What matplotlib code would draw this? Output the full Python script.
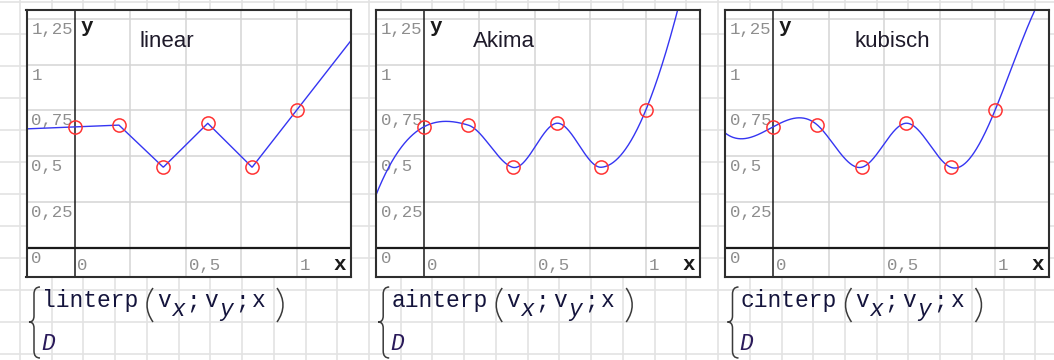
import numpy as np
import matplotlib
matplotlib.use("Agg")
import matplotlib.pyplot as plt
from matplotlib.path import Path
from matplotlib.patches import PathPatch

# Interpolation nodes
vx = [0.0, 0.2, 0.4, 0.6, 0.8, 1.0]
vy = [0.66, 0.67, 0.44, 0.68, 0.44, 0.75]

titles = ["linear", "Akima", "kubisch"]
func_names = ["linterp", "ainterp", "cinterp"]
y_ticks = [0, 0.25, 0.5, 0.75, 1, 1.25]
y_tick_labels = ["0", "0,25", "0,5", "0,75", "1", "1,25"]
x_ticks = [0, 0.5, 1]
x_tick_labels = ["0", "0,5", "1"]
x_grid = [0.25, 0.5, 0.75, 1.0]
y_grid = [0.25, 0.5, 0.75, 1.0, 1.25]


def hermite_eval(xk, yk, tk, xq):
    """Piecewise cubic Hermite; end pieces are continued outside the nodes."""
    xk, yk, tk = map(np.asarray, (xk, yk, tk))
    i = np.clip(np.searchsorted(xk, xq) - 1, 0, len(xk) - 2)
    h = xk[i + 1] - xk[i]
    m = (yk[i + 1] - yk[i]) / h
    c2 = (3 * m - 2 * tk[i] - tk[i + 1]) / h
    c3 = (tk[i] + tk[i + 1] - 2 * m) / h ** 2
    s = xq - xk[i]
    return yk[i] + tk[i] * s + c2 * s ** 2 + c3 * s ** 3


def linear_eval(xk, yk, xq):
    xk, yk = np.asarray(xk), np.asarray(yk)
    i = np.clip(np.searchsorted(xk, xq) - 1, 0, len(xk) - 2)
    m = (yk[i + 1] - yk[i]) / (xk[i + 1] - xk[i])
    return yk[i] + m * (xq - xk[i])


def akima_slopes(xk, yk):
    xk, yk = np.asarray(xk), np.asarray(yk)
    m = np.diff(yk) / np.diff(xk)
    mm = np.concatenate([[3 * m[0] - 2 * m[1], 2 * m[0] - m[1]], m,
                         [2 * m[-1] - m[-2], 3 * m[-1] - 2 * m[-2]]])
    t = np.empty(len(xk))
    for k in range(len(xk)):
        a, b, c, d = mm[k], mm[k + 1], mm[k + 2], mm[k + 3]
        w1, w2 = abs(d - c), abs(b - a)
        t[k] = (b + c) / 2 if w1 + w2 == 0 else (w1 * b + w2 * c) / (w1 + w2)
    return t


def spline_slopes(xk, yk):
    """Cubic spline whose end slopes come from the parabola through the
    three nodes at each end."""
    xk, yk = np.asarray(xk), np.asarray(yk)
    n = len(xk)
    h = np.diff(xk)
    m = np.diff(yk) / h
    t_start = m[0] - (m[1] - m[0]) / (xk[2] - xk[0]) * h[0]
    t_end = m[-1] + (m[-1] - m[-2]) / (xk[-1] - xk[-3]) * h[-1]
    A = np.zeros((n, n))
    r = np.zeros(n)
    A[0, 0], A[0, 1] = 2 * h[0], h[0]
    r[0] = 6 * (m[0] - t_start)
    A[-1, -2], A[-1, -1] = h[-1], 2 * h[-1]
    r[-1] = 6 * (t_end - m[-1])
    for k in range(1, n - 1):
        A[k, k - 1] = h[k - 1]
        A[k, k] = 2 * (h[k - 1] + h[k])
        A[k, k + 1] = h[k]
        r[k] = 6 * (m[k] - m[k - 1])
    M = np.linalg.solve(A, r)
    t = np.empty(n)
    t[:-1] = m - h * (2 * M[:-1] + M[1:]) / 6
    t[-1] = t_end
    return t


W, H = 1054, 360
fig = plt.figure(figsize=(W / 100, H / 100), dpi=100)
fig.patch.set_facecolor("white")

# page background: worksheet grid, braces and formulas (pixel coordinates)
bg = fig.add_axes([0, 0, 1, 1])
bg.set_xlim(0, W)
bg.set_ylim(H, 0)
bg.axis("off")
for gx in np.arange(20, W, 31.73):
    bg.axvline(gx, color="#e3e3e3", lw=1.2, zorder=0)
for gy in np.arange(2, H, 32):
    bg.axhline(gy, color="#e3e3e3", lw=1.2, zorder=0)

PANEL_LEFT = [26.5, 375.7, 725.0]
PANEL_W = 324
TOP, BOTTOM = 10, 277
ORIGIN_DX, ORIGIN_Y = 48, 248      # pixel position of (0, 0) in a panel
SX, SY = 222.0, 183.5              # pixels per unit
TITLE_DX = [113, 97, 130]

line_col = "#3535f2"
mark_col = "#ff3333"
tick_col = "#8e8e8e"
frame_col = "#2e2e2e"
text_col = "#14143c"

mono = "Liberation Mono"

for p in range(3):
    L = PANEL_LEFT[p]
    ax = fig.add_axes([L / W, 1 - BOTTOM / H, PANEL_W / W, (BOTTOM - TOP) / H])
    xmin, xmax = -ORIGIN_DX / SX, (PANEL_W - ORIGIN_DX) / SX
    ymin, ymax = -(BOTTOM - ORIGIN_Y) / SY, (ORIGIN_Y - TOP) / SY
    ax.set_xlim(xmin, xmax)
    ax.set_ylim(ymin, ymax)
    ax.set_facecolor("white")
    ax.set_xticks([])
    ax.set_yticks([])
    for s in ax.spines.values():
        s.set_color(frame_col)
        s.set_linewidth(1.5)
        s.set_zorder(6)

    for g in x_grid:
        ax.axvline(g, color="#d4d4d4", lw=1.1, zorder=0)
    for g in y_grid:
        ax.axhline(g, color="#d4d4d4", lw=1.1, zorder=0)
    ax.axvline(0, color="#1a1a1a", lw=1.1, zorder=3)
    ax.axhline(0, color="#1a1a1a", lw=1.6, zorder=3)

    for v, lab in zip(y_ticks, y_tick_labels):
        ax.annotate(lab, xy=(0, v), xycoords=ax.get_yaxis_transform(),
                    xytext=(5, -3), textcoords="offset pixels",
                    ha="left", va="top", fontsize=12.5, family=mono,
                    color=tick_col, zorder=4)
    for v, lab in zip(x_ticks, x_tick_labels):
        ax.annotate(lab, xy=(v, 0), xycoords="data",
                    xytext=(3, -10), textcoords="offset pixels",
                    ha="left", va="top", fontsize=12.5, family=mono,
                    color=tick_col, zorder=4)

    ax.text(xmax - 11 / SX, -17 / SY, "x", ha="center", va="center",
            fontsize=15, family=mono, weight="bold", color="#1a1a1a", zorder=5)
    ax.text(12 / SX, ymax - 17 / SY, "y", ha="center", va="center",
            fontsize=15, family=mono, weight="bold", color="#1a1a1a", zorder=5)

    ax.text(xmin + TITLE_DX[p] / SX, ymax - 37 / SY, titles[p],
            ha="left", va="baseline", fontsize=16, family="Liberation Sans",
            color="#1e1a2a", zorder=5)

    xq = np.linspace(xmin, xmax, 800)
    if p == 0:
        yq = linear_eval(vx, vy, xq)
    elif p == 1:
        yq = hermite_eval(vx, vy, akima_slopes(vx, vy), xq)
    else:
        yq = hermite_eval(vx, vy, spline_slopes(vx, vy), xq)
    ax.plot(xq, yq, color=line_col, lw=1.0, zorder=4)
    ax.plot(vx, vy, "o", ms=9.5, mfc="none", mec=mark_col, mew=1.1, zorder=5)

    # formula block below the panel
    off = L - PANEL_LEFT[0]
    brace = Path(
        [(40 + off, 287), (34 + off, 287), (34 + off, 294), (34 + off, 316),
         (34 + off, 322), (29 + off, 322), (34 + off, 322), (34 + off, 328),
         (34 + off, 351), (34 + off, 358), (40 + off, 358)],
        [Path.MOVETO, Path.CURVE3, Path.CURVE3, Path.LINETO,
         Path.CURVE3, Path.CURVE3, Path.CURVE3, Path.CURVE3,
         Path.LINETO, Path.CURVE3, Path.CURVE3])
    bg.add_patch(PathPatch(brace, fill=False, ec="#3a3a3a", lw=1.1, zorder=2))
    lpar = Path([(153 + off, 288), (141 + off, 305), (153 + off, 322)],
                [Path.MOVETO, Path.CURVE3, Path.CURVE3])
    rpar = Path([(277 + off, 288), (289 + off, 305), (277 + off, 322)],
                [Path.MOVETO, Path.CURVE3, Path.CURVE3])
    for pp in (lpar, rpar):
        bg.add_patch(PathPatch(pp, fill=False, ec="#3a3a3a", lw=1.1, zorder=2))

    fs = 16.5
    bg.text(42 + off, 307, func_names[p], ha="left", va="baseline",
            fontsize=fs, family=mono, color=text_col)
    bg.text(157 + off, 307, "v", ha="left", va="baseline",
            fontsize=fs, family=mono, color=text_col)
    bg.text(171 + off, 316, "x", ha="left", va="baseline",
            fontsize=fs, family=mono, style="italic", color=text_col)
    bg.text(186 + off, 307, ";", ha="left", va="baseline",
            fontsize=fs, family=mono, color=text_col)
    bg.text(204 + off, 307, "v", ha="left", va="baseline",
            fontsize=fs, family=mono, color=text_col)
    bg.text(219 + off, 316, "y", ha="left", va="baseline",
            fontsize=fs, family=mono, style="italic", color=text_col)
    bg.text(235 + off, 307, ";", ha="left", va="baseline",
            fontsize=fs, family=mono, color=text_col)
    bg.text(252 + off, 307, "x", ha="left", va="baseline",
            fontsize=fs, family=mono, color=text_col)
    bg.text(41 + off, 350, "D", ha="left", va="baseline",
            fontsize=fs, family=mono, style="italic", color="#2a1a5a")

fig.savefig("out.png", dpi=100, facecolor="white")
